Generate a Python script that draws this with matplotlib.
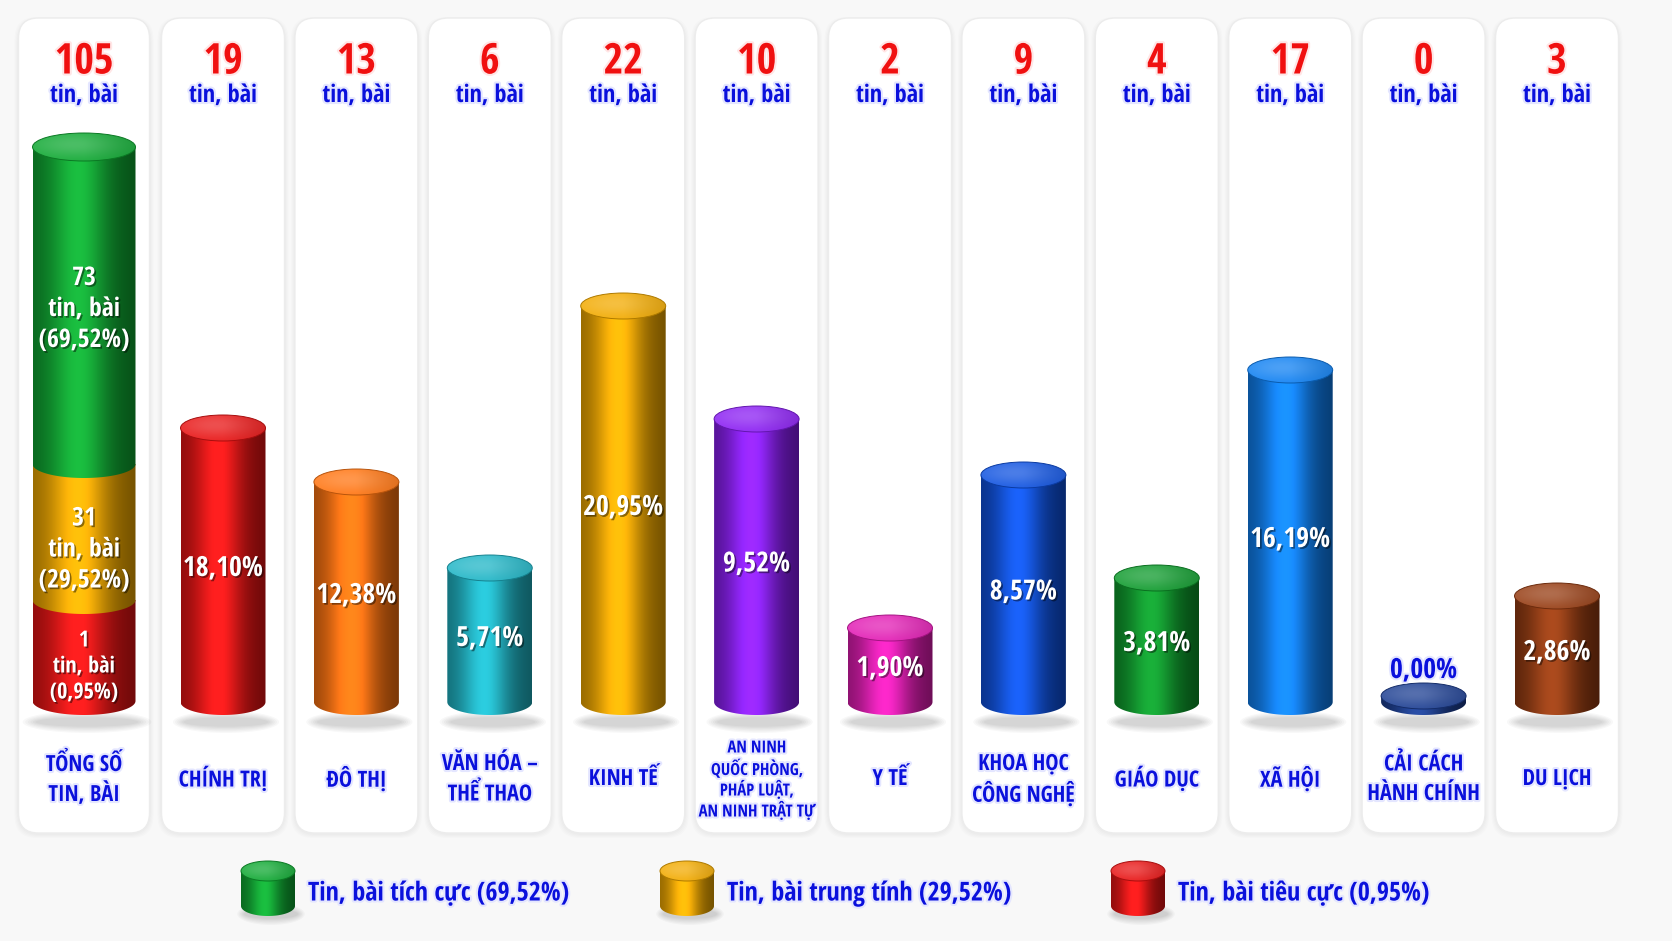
import numpy as np
import matplotlib.pyplot as plt
import matplotlib.patheffects as pe
from matplotlib.patches import FancyBboxPatch, Ellipse, Polygon
from matplotlib.colors import to_rgb

categories = ["TỔNG SỐ\nTIN, BÀI", "CHÍNH TRỊ", "ĐÔ THỊ", "VĂN HÓA –\nTHỂ THAO", "KINH TẾ",
              "AN NINH\nQUỐC PHÒNG,\nPHÁP LUẬT,\nAN NINH TRẬT TỰ", "Y TẾ",
              "KHOA HỌC\nCÔNG NGHỆ", "GIÁO DỤC", "XÃ HỘI", "CẢI CÁCH\nHÀNH CHÍNH", "DU LỊCH"]
counts = [105, 19, 13, 6, 22, 10, 2, 9, 4, 17, 0, 3]
shares = [100.0, 18.10, 12.38, 5.71, 20.95, 9.52, 1.90, 8.57, 3.81, 16.19, 0.00, 2.86]
# column heights as drawn in the picture (the original is not to scale)
drawn_heights = [554, 274, 220, 134, 396, 283, 74, 227, 124, 332, 6, 106]
bar_colors = [None, "#e81414", "#ff7410", "#1fb5c6", "#f2aa00", "#8a1ef2", "#e21cb4",
              "#0f52e0", "#0e9a2c", "#0f80f2", "#1d3f92", "#963c12"]

tone_names = ["Tin, bài tích cực", "Tin, bài trung tính", "Tin, bài tiêu cực"]
tone_counts = [73, 31, 1]
tone_shares = [69.52, 29.52, 0.95]
tone_heights = [317, 136, 101]
tone_colors = ["#0fa832", "#f2aa00", "#e81414"]

W, H = 1672, 941
BLUE = "#0a10dc"
RED = "#f01010"
plt.rcParams['font.family'] = ['Open Sans Condensed', 'Roboto Condensed', 'DejaVu Sans']
plt.rcParams['font.weight'] = 'bold'
plt.rcParams['font.stretch'] = 'condensed'

fig = plt.figure(figsize=(W / 100, H / 100), dpi=100, facecolor="#f8f8f8")
ax = fig.add_axes([0, 0, 1, 1])
ax.set_xlim(0, W)
ax.set_ylim(H, 0)
ax.axis('off')


def pct(v):
    return f"{v:.2f}".replace(".", ",") + "%"


def body_shade(color, n=160):
    base = np.array(to_rgb(color))
    t = np.linspace(-1, 1, n)
    f = np.exp(-((t + 0.12) / 0.55) ** 2)
    k = 0.6 + 0.48 * f - 0.12 * np.clip(t, 0, 1)
    rgb = np.clip(base[None, :] * k[:, None] + 0.04 * f[:, None], 0, 1)
    return rgb[None, :, :]


def top_shade(color, n=80):
    base = np.array(to_rgb(color))
    u, v = np.meshgrid(np.linspace(-1, 1, n), np.linspace(-1, 1, n))
    g = np.exp(-((u + 0.2) ** 2 + (v + 0.2) ** 2) / 0.9)
    mix = 0.05 + 0.2 * g
    rgb = base[None, None, :] * (1 - mix[..., None]) + mix[..., None]
    rgb = rgb * (1 - 0.12 * np.clip(u, 0, 1))[..., None]
    return np.clip(rgb, 0, 1)


def cylinder_part(cx, width, b, ytop, ybot, color, z):
    a = width / 2
    th = np.linspace(np.pi, 0, 60)
    pts = [(cx - a, ytop), (cx - a, ybot)]
    pts += list(zip(cx + a * np.cos(th), ybot + b * np.sin(th)))
    pts += [(cx + a, ytop)]
    clip = Polygon(pts, closed=True, transform=ax.transData)
    im = ax.imshow(body_shade(color), extent=(cx - a, cx + a, ybot + b, ytop - b),
                   aspect='auto', interpolation='bilinear', zorder=z)
    im.set_clip_path(clip)


def cylinder_top(cx, width, b, ytop, color, z):
    a = width / 2
    el = Ellipse((cx, ytop), width, 2 * b, transform=ax.transData)
    im = ax.imshow(top_shade(color), extent=(cx - a, cx + a, ytop + b, ytop - b),
                   aspect='auto', interpolation='bilinear', zorder=z)
    im.set_clip_path(el)
    ax.add_patch(Ellipse((cx, ytop), width, 2 * b, fill=False,
                         ec=tuple(np.array(to_rgb(color)) * 0.72), lw=0.7, zorder=z + 0.1))


def floor_shadow(cx, width, y):
    for k in range(6):
        ax.add_patch(Ellipse((cx + 3, y), width * (1.25 - 0.05 * k), 22 - 2.5 * k,
                             fc="#000000", ec="none", alpha=0.028, zorder=2))


def stacked_text(x, yc, text, step, **kw):
    # one text per line so the spacing is even whatever the accents
    lines = text.split("\n")
    for j, line in enumerate(lines):
        ax.text(x, yc + (j - (len(lines) - 1) / 2) * step, line,
                ha='center', va='center_baseline', **kw)


shadow_fx = [pe.SimplePatchShadow(offset=(1.2, -1.2), shadow_rgbFace="#000000", alpha=0.45),
             pe.Normal()]
glow_fx = [pe.withStroke(linewidth=3, foreground="#e4e6ff")]

# ---- layout of the columns ----
pitch = 133.4
centers = [84] + [223 + (i - 1) * pitch for i in range(1, len(categories))]
card_w = [131] + [123] * (len(categories) - 1)
card_top, card_bot = 18, 833
base_y = 702

for i, cx in enumerate(centers):
    x0 = cx - card_w[i] / 2
    for k in range(4):
        ax.add_patch(FancyBboxPatch((x0 - 1 - k, card_top - k + 2), card_w[i] + 2 + 2 * k,
                                    card_bot - card_top + 2 * k,
                                    boxstyle="round,pad=0,rounding_size=22",
                                    fc="#000000", ec="none", alpha=0.012, zorder=0.5))
    ax.add_patch(FancyBboxPatch((x0, card_top), card_w[i], card_bot - card_top,
                                boxstyle="round,pad=0,rounding_size=20",
                                fc="white", ec="#ececec", lw=1, zorder=1))
    ax.text(cx, 58, str(counts[i]), ha='center', va='center_baseline', fontsize=30.5, color=RED,
            path_effects=[pe.withStroke(linewidth=3, foreground="#ffe6e6")], zorder=6)
    ax.text(cx, 93, "tin, bài", ha='center', va='center_baseline', fontsize=17.5, color=BLUE,
            path_effects=glow_fx, zorder=6)
    multi = categories[i].count("\n") >= 3
    stacked_text(cx, 777, categories[i], 21 if multi else 30, fontsize=12 if multi else 16,
                 color=BLUE, path_effects=glow_fx, zorder=6)

# ---- the stacked total column ----
tw, tb = 103, 14
cx = centers[0]
floor_shadow(cx, tw, base_y + 20)
ybot = 701
tops = []
for h, col in zip(tone_heights[::-1], tone_colors[::-1]):
    ytop = ybot - h
    cylinder_part(cx, tw, tb, ytop, ybot, col, 3)
    tops.append((ytop, ybot))
    ybot = ytop
cylinder_top(cx, tw, tb, ybot, tone_colors[0], 4)

for j, ((ytop, yb), n, s) in enumerate(zip(tops[::-1], tone_counts, tone_shares)):
    big = tone_heights[j] > 120
    # visible part of a segment: the top one shows its whole lid
    yc = (ytop + yb) / 2 + (0 if j == 0 else tb)
    stacked_text(cx, yc, f"{n}\ntin, bài\n({pct(s)})", 31 if big else 26,
                 fontsize=18.5 if big else 16, color="white", path_effects=shadow_fx, zorder=6)

# ---- category columns ----
cw, cb = 85, 13
for i in range(1, len(categories)):
    cx = centers[i]
    h = drawn_heights[i]
    ytop = base_y - h
    floor_shadow(cx, cw, base_y + 20)
    cylinder_part(cx, cw, cb, ytop, base_y, bar_colors[i], 3)
    cylinder_top(cx, cw, cb, ytop, bar_colors[i], 4)
    if counts[i] == 0:
        ax.text(cx, ytop - cb - 16, pct(shares[i]), ha='center', va='center_baseline',
                fontsize=20, color=BLUE, path_effects=glow_fx, zorder=6)
    else:
        ax.text(cx, (ytop + base_y) / 2, pct(shares[i]), ha='center', va='center_baseline',
                fontsize=20, color="white", path_effects=shadow_fx, zorder=6)

# ---- legend ----
leg_x = [268, 687, 1138]
for x, name, s, col in zip(leg_x, tone_names, tone_shares, tone_colors):
    floor_shadow(x, 54, 914)
    cylinder_part(x, 54, 10, 871, 906, col, 3)
    cylinder_top(x, 54, 10, 871, col, 4)
    ax.text(x + 40, 890, f"{name} ({pct(s)})", ha='left', va='center_baseline', fontsize=18.8,
            color=BLUE, path_effects=glow_fx, zorder=6)

fig.savefig("out.png", dpi=100, facecolor=fig.get_facecolor())
